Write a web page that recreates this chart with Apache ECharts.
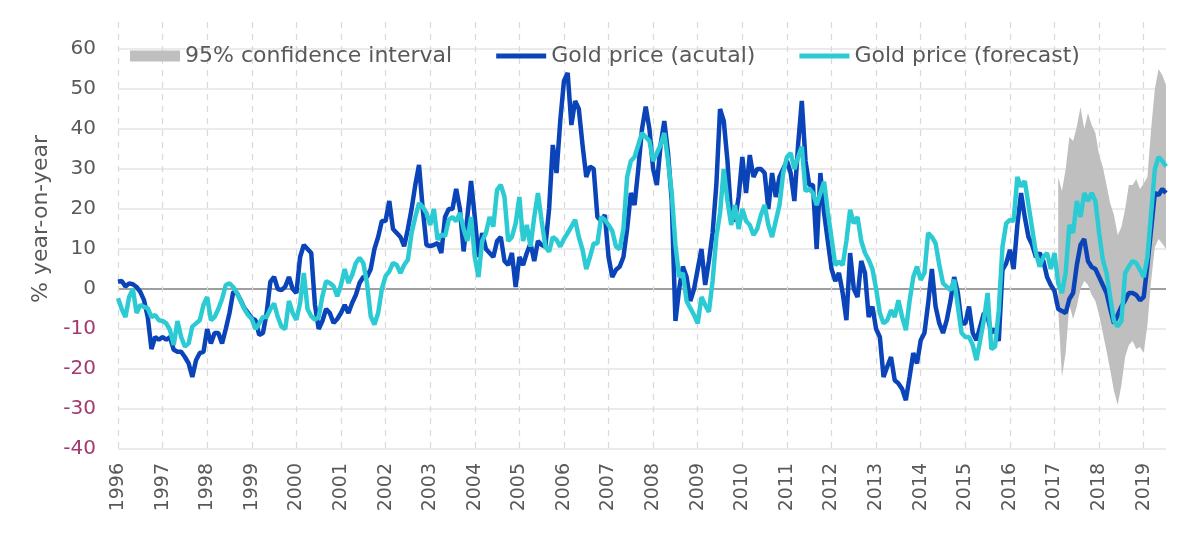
<!DOCTYPE html>
<html>
<head>
<meta charset="utf-8">
<script src="https://cdn.jsdelivr.net/npm/echarts@6/dist/echarts.min.js"></script>
<style>
  html, body { margin: 0; padding: 0; background: #fff; }
  #chart { width: 1200px; height: 533px; }
</style>
</head>
<body>
<div id="chart"></div>
<script>
// tick labels on the x axis (one per January)
const yearLabels = ['1996', '1997', '1998', '1999', '2000', '2001', '2002', '2003',
  '2004', '2005', '2006', '2007', '2008', '2009', '2010', '2011', '2012', '2013',
  '2014', '2015', '2016', '2017', '2018', '2019'];

// gold price, % year-on-year, monthly from Jan 1996
const actual = [
  1.8, 2, 0.6, 1.4, 1.2, 0.5, -0.7, -2.8, -7, -15, -12, -12.7,          // 1996
  -12, -12.7, -12, -15.2, -15.7, -15.7, -17, -18.6, -22, -17.8, -16, -15.7, // 1997
  -10, -13.6, -11, -11, -13.6, -10, -6, -0.7, -1, -2.8, -4.8, -6,       // 1998
  -7.3, -7.8, -11.5, -11, -6, 1.8, 3, 0, -0.3, 0.6, 3, 0,               // 1999
  -1, 8, 11, 10, 9, -4, -10, -8, -5, -6, -8.5, -7.5,                    // 2000
  -6, -4, -6, -3.5, -1.5, 1.5, 3, 3, 5, 10, 13, 17,                     // 2001
  17, 22, 15, 14, 13, 10.7, 15, 20, 26, 31, 20, 11,                     // 2002
  10.7, 11, 11.5, 9, 18, 20, 20, 25, 20, 9.4, 18, 27,                   // 2003
  18, 8, 14, 10, 9, 8, 12, 13, 7, 6, 9, 0.5,                            // 2004
  8, 6, 9, 11.4, 7, 12, 11, 10.6, 20, 36, 29, 42,                       // 2005
  52, 54, 41, 47, 45, 36, 28, 30.6, 30, 18, 17, 18.5,                   // 2006
  8, 3, 4.8, 5.6, 8, 15, 24, 21, 30, 40, 45.6, 40,                      // 2007
  30, 26, 36, 42, 34, 22, -8, 0, 5.6, 3, -3, 0,                         // 2008
  5, 10, 1, 7, 14, 26, 45, 42, 32, 18, 17, 23,                          // 2009
  33, 24, 33.5, 28, 30, 30, 29, 20, 29, 23, 28, 30,                     // 2010
  32, 29, 22, 36, 47, 32, 26, 26, 10, 29, 19, 12,                       // 2011
  5, 2, 4, -1, -7.8, 9, 0, -2, 7, 4, -7, -4.4,                          // 2012
  -10, -12, -22, -19.4, -17, -22.8, -23.6, -25, -27.8, -22, -16, -18.6, // 2013
  -12.8, -11, -3.6, 5, -4.4, -8.6, -11, -7.8, -3, 3, -1, -8.6,          // 2014
  -8.6, -4.4, -11, -12.8, -9.4, -6, -7, -11, -10, -13, 4.8, 6.4,        // 2015
  9.8, 5, 16, 24, 18, 13, 11, 8, 9, 7, 3, 1,                            // 2016
  -0.5, -5, -5.5, -6, -2.5, -1, 6, 11, 12.5, 7, 5.5, 5,                 // 2017
  3, 1, -1, -5, -8.6, -6.5, -4.4, -2.8, -1, -1, -1.5, -2.8,             // 2018
  -2, 6, 15, 24, 23.5, 25, 24                                           // 2019
];

const forecast = [
  -2.3, -5, -7, -2, 0, -6, -4, -4.5, -4.8, -7, -6.5, -7.8,              // 1996
  -8, -8.6, -10.3, -14, -8, -12, -14.4, -13.6, -9.4, -8.6, -7.8, -4,    // 1997
  -2, -7.8, -7, -5, -2.5, 1, 1.4, 0.5, -1, -3, -5, -6.5,                // 1998
  -7.5, -10, -8.6, -7, -7, -5, -3.6, -7, -9.4, -10, -3, -6,             // 1999
  -7.7, -3.5, 4, -5, -6.8, -7.7, -7, -1.8, 1.9, 1.5, 0.7, -1.8,         // 2000
  1, 5, 1.5, 3.5, 6.5, 7.8, 6.5, 1.5, -6.8, -8.9, -6, 0,                // 2001
  3.2, 4.4, 6.5, 6, 4, 6, 7.3, 14, 18, 21.5, 20.5, 19,                  // 2002
  16, 20, 12.3, 13.6, 13.2, 17.3, 18, 16.9, 19, 15, 12, 18,             // 2003
  8, 3, 12, 14, 18, 15.6, 24.8, 26, 23, 12, 13, 16.4,                   // 2004
  23, 12, 16, 10.6, 18, 24, 17, 10.6, 9.3, 13, 12.3, 10.6,              // 2005
  12.5, 14, 15.6, 17.3, 13, 9.8, 5, 8, 11.4, 11.4, 18, 17.3,            // 2006
  16, 14.5, 10.6, 10, 15, 28, 32, 33, 36, 39, 38, 37,                   // 2007
  32, 34, 36, 39, 32, 24, 11, 3, 4, -3, -4.8, -6.5,                     // 2008
  -8.6, -2, -4, -5.7, 2, 13, 19, 30, 22, 16, 21, 15,                    // 2009
  20, 17, 16, 13.5, 15, 18.5, 21, 16, 13, 17, 21, 29,                   // 2010
  33, 34, 30, 33, 35.6, 24.5, 25, 24, 21, 24, 26.8, 19.3,               // 2011
  12.7, 6, 6.8, 6, 12, 19.8, 16.4, 18, 12, 9, 7.3, 5,                   // 2012
  0, -6, -8.6, -7.8, -5.3, -7, -2.8, -7, -10.3, -3, 3, 5.6,             // 2013
  2.3, 4, 14, 13, 11.4, 6, 1.4, 0.6, -0.3, 2.3, -4.4, -11,              // 2014
  -12, -12, -14, -17.8, -12.8, -7.8, -1, -15, -14.4, -5.3, 10.6, 16.4,  // 2015
  17.3, 17, 28, 25.6, 27, 21, 15, 9, 5.6, 8, 9, 5,                      // 2016
  9, 1.4, -1, 4, 16, 14, 22, 18, 24, 22, 24, 22,                        // 2017
  14, 7.3, 4, -2, -8, -9.4, -8, 4, 5.6, 7, 6.5, 4.8,                    // 2018
  3, 8, 19, 30, 33, 32, 30.6                                            // 2019
];

// 95% confidence interval, monthly from Feb 2017
const ciStart = '2017-02';
const ciLower = [-5, -22, -16, -4, -7.5, -4.4, 0, 2, 1, -1.5, -3, -6.5, -11, -15.5,
  -20.3, -25.5, -29, -24, -17, -14, -13, -15, -14.5, -16, -9, 2, 10.5, 12.5, 11.4, 10];
const ciUpper = [28, 24.5, 30, 38, 37, 40.6, 45.5, 40, 44, 41, 39, 33.5, 30.5, 26,
  21.4, 18.5, 13.5, 15.5, 20, 26, 26, 27.5, 25, 26.4, 28, 40, 50, 55, 53.5, 51];

const months = [];
yearLabels.forEach(y => {
  for (let m = 1; m <= 12; m++) months.push(y + '-' + String(m).padStart(2, '0'));
});
months.length = actual.length;

const ciOffset = months.indexOf(ciStart);
const bandBase = months.map((_, i) => {
  const v = ciLower[i - ciOffset];
  return v === undefined ? '-' : v;
});
const bandWidth = months.map((_, i) => {
  const k = i - ciOffset;
  return ciLower[k] === undefined ? '-' : +(ciUpper[k] - ciLower[k]).toFixed(2);
});

const FONT = 'DejaVu Sans';
const TXT = '#595959';
const isJan = (i) => i % 12 === 0;
// flat line icon inside a 50x11 box (the empty moves keep the box height)
const LINE_ICON = 'path://M0,0L0,0.01M0,11L0,10.99M0,3H50V8H0Z';

const chart = echarts.init(document.getElementById('chart'));
chart.setOption({
  animation: false,
  textStyle: { fontFamily: FONT },
  legend: {
    left: 125,
    top: 40,
    itemGap: 44,
    itemWidth: 50,
    itemHeight: 11,
    textStyle: { fontFamily: FONT, fontSize: 22, color: TXT },
    data: [
      { name: '95% confidence interval', icon: 'rect' },
      { name: 'Gold price (acutal)', icon: LINE_ICON },
      { name: 'Gold price (forecast)', icon: LINE_ICON }
    ]
  },
  grid: [
    { left: 118, right: 34, top: 49, bottom: 84 },
    { left: 118, right: 34, top: 22, bottom: 84 }
  ],
  xAxis: [
    {
      type: 'category',
      gridIndex: 0,
      data: months,
      boundaryGap: false,
      axisLine: { show: false, onZero: false },
      axisTick: { show: false },
      splitLine: { show: false },
      axisLabel: {
        interval: (i) => isJan(i),
        rotate: 90,
        margin: 14,
        fontSize: 19,
        color: TXT,
        formatter: (v) => v.slice(0, 4)
      }
    },
    {
      // only carries the dashed year lines, which run above the top gridline
      type: 'category',
      gridIndex: 1,
      data: months,
      boundaryGap: false,
      axisLine: { show: false },
      axisTick: { show: false },
      axisLabel: { show: false },
      splitLine: {
        show: true,
        interval: (i) => isJan(i),
        lineStyle: { color: '#d9d9d9', type: [6, 6], width: 1.2 }
      }
    }
  ],
  yAxis: [
    {
      type: 'value',
      gridIndex: 0,
      min: -40,
      max: 60,
      interval: 10,
      name: '% year-on-year',
      nameLocation: 'middle',
      nameRotate: 90,
      nameGap: 65,
      nameTextStyle: { fontFamily: FONT, fontSize: 22, color: TXT, padding: [0, 0, 0, 60] },
      axisLine: { show: false },
      axisTick: { show: false },
      axisLabel: {
        margin: 22,
        fontSize: 20,
        color: (v) => (v < 0 ? '#a23a6e' : TXT)
      },
      splitLine: {
        lineStyle: {
          width: 1.5,
          color: ['#e4e4e4', '#e4e4e4', '#e4e4e4', '#e4e4e4', '#7f7f7f',
            '#e4e4e4', '#e4e4e4', '#e4e4e4', '#e4e4e4', '#e4e4e4', '#e4e4e4']
        }
      }
    },
    { type: 'value', gridIndex: 1, min: 0, max: 1, show: false, splitLine: { show: false } }
  ],
  series: [
    {
      name: 'ci-base',
      type: 'line',
      stack: 'ci',
      stackStrategy: 'all',
      data: bandBase,
      symbol: 'none',
      silent: true,
      lineStyle: { width: 0, opacity: 0 },
      itemStyle: { color: 'transparent' }
    },
    {
      name: '95% confidence interval',
      type: 'line',
      stack: 'ci',
      stackStrategy: 'all',
      data: bandWidth,
      symbol: 'none',
      color: '#bfbfbf',
      lineStyle: { width: 0, opacity: 0 },
      areaStyle: { color: '#bfbfbf', opacity: 1 }
    },
    {
      name: 'Gold price (acutal)',
      type: 'line',
      data: actual,
      symbol: 'none',
      color: '#0a44b8',
      lineStyle: { width: 4.5, color: '#0a44b8' }
    },
    {
      name: 'Gold price (forecast)',
      type: 'line',
      data: forecast,
      symbol: 'none',
      color: '#2ccbd3',
      lineStyle: { width: 4.5, color: '#2ccbd3' }
    }
  ]
});
</script>
</body>
</html>
